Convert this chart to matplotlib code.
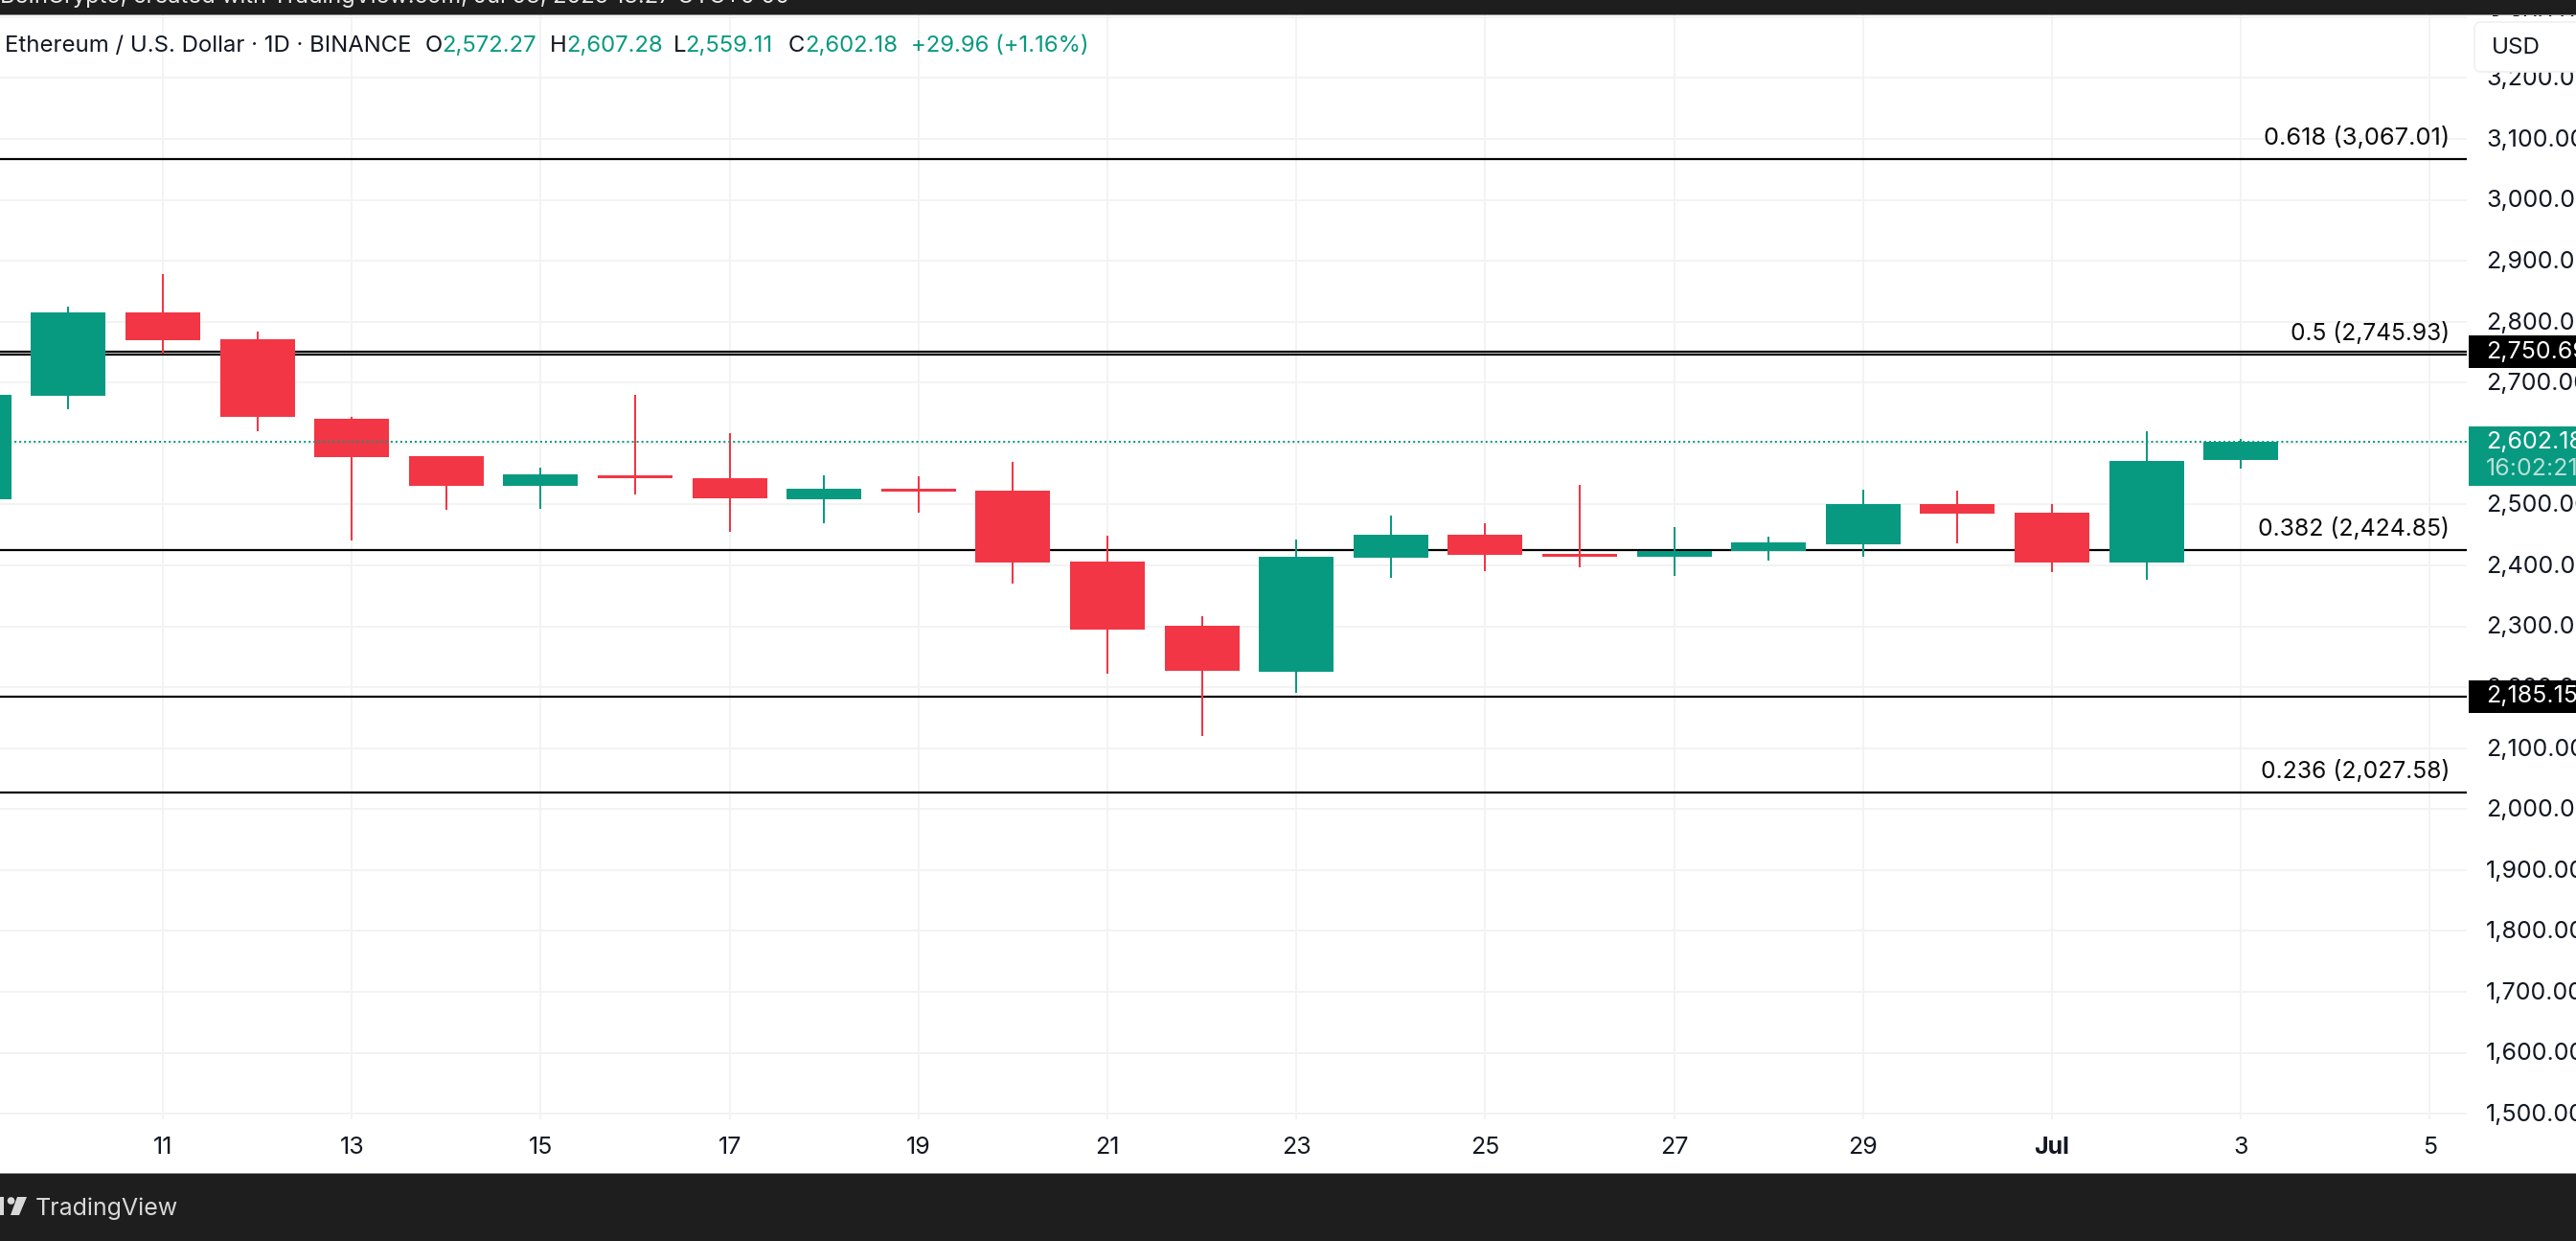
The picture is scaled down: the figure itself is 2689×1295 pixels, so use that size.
import matplotlib
matplotlib.use("Agg")
import matplotlib.pyplot as plt
from matplotlib.patches import Rectangle, FancyBboxPatch, Polygon, Circle
from matplotlib.transforms import ScaledTranslation

plt.rcParams['font.family'] = ['Inter', 'DejaVu Sans']

W, H = 2689, 1295
GREEN = '#089981'
RED = '#F23645'
INK = '#131722'
GRID = '#F2F2F2'
DARK = '#1E1E1E'
FS_AXIS = 18

# Day index: June days as-is, July 1 = 31, July 3 = 33
days   = list(range(9, 34))
opens  = [2508.5, 2678.4, 2815.3, 2771.2, 2640.7, 2579.3, 2530.5, 2547.9, 2543.1, 2508.5,
          2525.8, 2522.7, 2406.3, 2300.9, 2225.4, 2412.6, 2450.3, 2418.9, 2414.1, 2423.6,
          2434.6, 2500.7, 2486.5, 2404.7, 2572.27]
highs  = [2680.0, 2824.7, 2878.2, 2783.8, 2643.8, 2579.3, 2560.4, 2680.0, 2617.0, 2547.9,
          2546.3, 2569.9, 2448.7, 2316.6, 2442.5, 2481.8, 2469.2, 2532.1, 2462.9, 2447.2,
          2524.3, 2522.7, 2500.7, 2620.2, 2607.28]
lows   = [2508.5, 2656.4, 2747.2, 2620.2, 2440.9, 2491.2, 2492.8, 2516.4, 2455.0, 2469.2,
          2486.5, 2370.1, 2222.2, 2120.0, 2190.8, 2379.5, 2390.6, 2396.9, 2382.7, 2407.8,
          2414.1, 2436.2, 2389.0, 2376.4, 2559.11]
closes = [2680.0, 2815.3, 2769.7, 2643.8, 2577.7, 2530.5, 2549.4, 2543.1, 2510.1, 2525.8,
          2521.1, 2404.7, 2294.6, 2226.9, 2414.1, 2450.3, 2417.3, 2414.1, 2423.6, 2437.7,
          2500.7, 2485.0, 2404.7, 2571.5, 2602.18]

fib_levels = [3067.01, 2745.93, 2424.85, 2027.58]
fib_labels = ['0.618 (3,067.01)', '0.5 (2,745.93)', '0.382 (2,424.85)', '0.236 (2,027.58)']
fib_sizes = [18.4, 17.7, 17.8, 17.8]
hlines = [2750.69, 2185.15]
hline_labels = ['2,750.69', '2,185.15']
last_price = 2602.18
last_label = '2,602.18'
countdown = '16:02:21'

price_ticks = list(range(1500, 3400, 100))
date_ticks = [11, 13, 15, 17, 19, 21, 23, 25, 27, 29, 31, 33, 35]
date_labels = ['11', '13', '15', '17', '19', '21', '23', '25', '27', '29', 'Jul', '3', '5']

fig = plt.figure(figsize=(W / 100, H / 100), dpi=100, facecolor='white')

def frac(l, t, r, b):
    return [l / W, 1 - b / H, (r - l) / W, (b - t) / H]

TOP, BOT, RIGHT = 16, 1168, 2575
ax = fig.add_axes(frac(0, TOP, RIGHT, BOT))
PX_DAY = 98.6
PX_USD = 0.6357
ax.set_xlim(11 + (0 - 170) / PX_DAY, 11 + (RIGHT - 170) / PX_DAY)
ax.set_ylim(3100 - (BOT - 145) / PX_USD, 3100 - (TOP - 145) / PX_USD)
for s in ax.spines.values():
    s.set_visible(False)
ax.set_axisbelow(True)
ax.grid(True, color=GRID, lw=1.3)
ax.set_xticks(date_ticks, date_labels)
ax.set_yticks(price_ticks, [f'{p:,.2f}' for p in price_ticks])
ax.yaxis.tick_right()
ax.tick_params(axis='y', length=0, pad=14.5, labelsize=FS_AXIS, labelcolor=INK)
ax.tick_params(axis='x', length=0, pad=13, labelsize=FS_AXIS, labelcolor=INK)
for t, lab in zip(ax.get_xticklabels(), date_labels):
    if lab == 'Jul':
        t.set_fontweight('bold')
# the tick labels past the image's right edge are cut off, as in the reference
up = ScaledTranslation(0, 1.2 / 100, fig.dpi_scale_trans)
for t in ax.get_yticklabels():
    t.set_clip_on(False)
    t.set_transform(t.get_transform() + up)

for lvl in fib_levels + hlines:
    ax.axhline(lvl, color='black', lw=1.6, zorder=2)

xlab = 11 + (2557 - 170) / PX_DAY
for lvl, lab, fs in zip(fib_levels, fib_labels, fib_sizes):
    ax.annotate(lab, xy=(xlab, lvl), xytext=(0, 15.8), textcoords='offset points',
                ha='right', va='center', fontsize=fs, color='#0b0b0b', zorder=6)

body_w = 78 / PX_DAY
for d, o, h, l, c in zip(days, opens, highs, lows, closes):
    col = GREEN if c >= o else RED
    ax.vlines(d, l, h, color=col, lw=1.45, zorder=3)
    ax.add_patch(Rectangle((d - body_w / 2, min(o, c)), body_w, abs(c - o),
                           fc=col, ec='none', zorder=4))

ax.axhline(last_price, color=GREEN, lw=1.45, ls=(0, (1.0, 1.5)), zorder=5)

# overlay in image pixels for the chrome
ov = fig.add_axes([0, 0, 1, 1], facecolor='none')
ov.set_xlim(0, W)
ov.set_ylim(H, 0)
ov.axis('off')

def ypx(price):
    return H - ax.transData.transform((0, price))[1]

ov.add_patch(Rectangle((0, 0), W, 15, fc=DARK, ec='none'))
ov.add_patch(Rectangle((0, 14.5), W, 1.5, fc='#8a8a8a', ec='none'))
ov.add_patch(Rectangle((0, 1224), W, H - 1224, fc=DARK, ec='none'))
ov.add_patch(Rectangle((0, 1223.5), W, 1.2, fc='#8a8a8a', ec='none'))

ov.text(0, 3, 'BeInCrypto, created with TradingView.com, Jul 03, 2025 13:27 UTC+0 00',
        fontsize=17, color='#e8e8e8', ha='left', va='baseline', clip_on=True)

# legend line
ty = 48
ov.text(5, ty, 'Ethereum / U.S. Dollar · 1D · BINANCE', fontsize=17.2, color=INK, va='center')
for x, s, col in [(444, 'O', INK), (461, '2,572.27', GREEN), (574, 'H', INK), (591, '2,607.28', GREEN),
                  (703, 'L', INK), (715, '2,559.11', GREEN), (823, 'C', INK), (840, '2,602.18', GREEN),
                  (951, '+29.96 (+1.16%)', GREEN)]:
    ov.text(x, ty, s, fontsize=17.2, color=col, va='center')

# USD button
ov.add_patch(Rectangle((2576, 17), W - 2576, 58, fc='white', ec='none'))
ov.add_patch(FancyBboxPatch((2583, 23), 140, 52, boxstyle='round,pad=0,rounding_size=7',
                            fc='white', ec='#F0F0F0', lw=1.2))
ov.text(2601, 50, 'USD', fontsize=17.4, color=INK, va='center')

# price tags
for p, lab in zip(hlines, hline_labels):
    y = ypx(p)
    ov.add_patch(Rectangle((2577, y - 17), W - 2577, 34, fc='black', ec='none'))
    ov.text(2595, y, lab, fontsize=FS_AXIS, color='white', va='center', clip_on=False)
y = ypx(last_price)
ov.add_patch(Rectangle((2577, y - 16.5), W - 2577, 62, fc=GREEN, ec='none'))
ov.text(2595, y, last_label, fontsize=FS_AXIS, color='white', va='center')
ov.text(2595, y + 28, countdown, fontsize=FS_AXIS, color='#b5e0d8', va='center')

# footer logo, cut by the left edge as in the reference
LOGO = '#d8d8d8'
ov.add_patch(Rectangle((0, 1249), 4.3, 19, fc=LOGO, ec='none'))
ov.add_patch(Circle((11.5, 1253), 3.8, fc=LOGO, ec='none'))
ov.add_patch(Polygon([(18, 1249), (28, 1249), (20, 1268), (11, 1268)], closed=True, fc=LOGO, ec='none'))
ov.text(37, 1261, 'TradingView', fontsize=18, color=LOGO, va='center')

fig.savefig('out.png', dpi=100)
